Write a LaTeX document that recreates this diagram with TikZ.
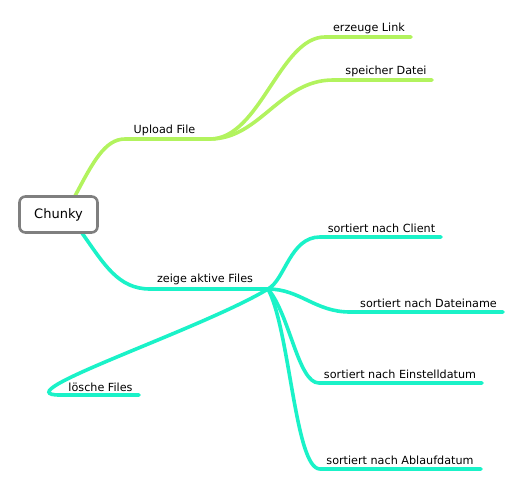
\documentclass[tikz,border=0pt]{standalone}
\usepackage{fontspec}
\setmainfont{DejaVu Sans}
\definecolor{lime}{HTML}{B2F35E}
\definecolor{aqua}{HTML}{1AF2C8}
\definecolor{boxgray}{HTML}{7F7F7F}
\begin{document}
\begin{tikzpicture}[x=1pt,y=-1pt,
  lbl/.style={inner sep=0pt,font=\fontsize{11.2}{13}\selectfont},
  gbranch/.style={draw=lime,line width=3.6pt,line cap=round},
  cbranch/.style={draw=aqua,line width=3.6pt,line cap=round},
  rootbox/.style={draw=boxgray,line width=2.6pt,rounded corners=6pt,fill=white,minimum width=78pt,minimum height=36pt,font=\fontsize{13}{15}\selectfont}]
\useasboundingbox (0,0) rectangle (529,487);
% coordinates of line ends
\coordinate (upS) at (125,139); \coordinate (upE) at (210,139);
\coordinate (elS) at (325,37);  \coordinate (elE) at (411,37);
\coordinate (sdS) at (333,80);  \coordinate (sdE) at (432,80);
\coordinate (zaS) at (150,289); \coordinate (zaE) at (268,289);
\coordinate (clS) at (320,237); \coordinate (clE) at (441,237);
\coordinate (dnS) at (350,312); \coordinate (dnE) at (503,312);
\coordinate (edS) at (319,383); \coordinate (edE) at (482,383);
\coordinate (adS) at (320,469); \coordinate (adE) at (481,469);
\coordinate (lfS) at (60,395);  \coordinate (lfE) at (139,395);
\coordinate (rootT) at (75,196); \coordinate (rootB) at (82,233);
% green branches
\path[gbranch] (rootT) .. controls (93,162) and (105,139) .. (upS) -- (upE);
\path[gbranch] (upE) .. controls (260,139) and (280,37) .. (elS) -- (elE);
\path[gbranch] (upE) .. controls (260,139) and (280,80) .. (sdS) -- (sdE);
% cyan branches
\path[cbranch] (rootB) .. controls (104,264) and (118,289) .. (zaS) -- (zaE);
\path[cbranch] (zaE) .. controls (285,280) and (290,237) .. (clS) -- (clE);
\path[cbranch] (zaE) .. controls (300,289) and (315,312) .. (dnS) -- (dnE);
\path[cbranch] (zaE) .. controls (290,315) and (298,383) .. (edS) -- (edE);
\path[cbranch] (zaE) .. controls (290,330) and (295,469) .. (adS) -- (adE);
\path[cbranch] (zaE) .. controls (200,330) and (0,395) .. (lfS) -- (lfE);
% root
\node[rootbox] (root) at (58.5,214.5) {Chunky};
% labels
\node[lbl] (up) at (164.5,130) {Upload File};
\node[lbl] (el) at (369,28) {erzeuge Link};
\node[lbl] (sd) at (386,71) {speicher Datei};
\node[lbl] (za) at (205,279) {zeige aktive Files};
\node[lbl] (cl) at (381.5,228) {sortiert nach Client};
\node[lbl] (dn) at (428.5,303) {sortiert nach Dateiname};
\node[lbl] (ed) at (400,374) {sortiert nach Einstelldatum};
\node[lbl] (ad) at (400,460) {sortiert nach Ablaufdatum};
\node[lbl] (lf) at (100.5,387) {lösche Files};
\end{tikzpicture}
\end{document}
